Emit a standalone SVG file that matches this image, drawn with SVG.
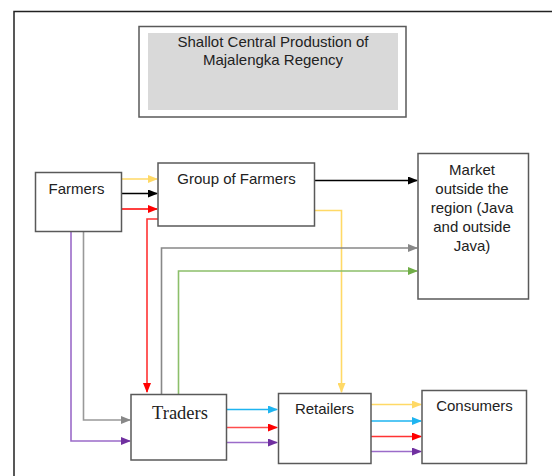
<svg xmlns="http://www.w3.org/2000/svg" width="552" height="476" viewBox="0 0 552 476">
<style>
.box{fill:#fff;stroke:#595959;stroke-width:1.5}
.t{font-family:"Liberation Sans",Arial,sans-serif;font-size:15px;fill:#222;text-anchor:middle}
.ts{font-family:"Liberation Serif","Times New Roman",serif;font-size:18.5px;fill:#222;text-anchor:middle}
.c{fill:none;stroke-width:1.6}
</style>
<defs>
<marker id="aY" markerWidth="10" markerHeight="8" refX="9" refY="4" orient="auto" markerUnits="userSpaceOnUse"><path d="M0,0L10,4L0,8z" fill="#FFD966"/></marker>
<marker id="aK" markerWidth="10" markerHeight="8" refX="9" refY="4" orient="auto" markerUnits="userSpaceOnUse"><path d="M0,0L10,4L0,8z" fill="#000"/></marker>
<marker id="aR" markerWidth="10" markerHeight="8" refX="9" refY="4" orient="auto" markerUnits="userSpaceOnUse"><path d="M0,0L10,4L0,8z" fill="#FF0000"/></marker>
<marker id="aG" markerWidth="10" markerHeight="8" refX="9" refY="4" orient="auto" markerUnits="userSpaceOnUse"><path d="M0,0L10,4L0,8z" fill="#888"/></marker>
<marker id="aN" markerWidth="10" markerHeight="8" refX="9" refY="4" orient="auto" markerUnits="userSpaceOnUse"><path d="M0,0L10,4L0,8z" fill="#70AD47"/></marker>
<marker id="aP" markerWidth="10" markerHeight="8" refX="9" refY="4" orient="auto" markerUnits="userSpaceOnUse"><path d="M0,0L10,4L0,8z" fill="#7030A0"/></marker>
<marker id="aC" markerWidth="10" markerHeight="8" refX="9" refY="4" orient="auto" markerUnits="userSpaceOnUse"><path d="M0,0L10,4L0,8z" fill="#1EB4F0"/></marker>
</defs>
<rect width="552" height="476" fill="#fff"/>
<path d="M14,480V11.5H560" fill="none" stroke="#222" stroke-width="1.5"/>
<g id="title">
<rect x="139" y="26.5" width="267" height="90.5" fill="#fff" stroke="#595959" stroke-width="1.5"/>
<rect x="148" y="33" width="250" height="77" fill="#D9D9D9"/>
<text class="t" x="273" y="47">Shallot Central Produstion of</text>
<text class="t" x="273" y="65">Majalengka Regency</text>
</g>
<g id="connectors">
<path class="c" stroke="#FFD966" d="M121,179H157" marker-end="url(#aY)"/>
<path class="c" stroke="#000" d="M121,193.5H157" marker-end="url(#aK)"/>
<path class="c" stroke="#FF0000" d="M121,209H157" marker-end="url(#aR)"/>
<path class="c" stroke="#FF3333" d="M158,219H147V392" marker-end="url(#aR)"/>
<path class="c" stroke="#000" d="M315,180.5H417" marker-end="url(#aK)"/>
<path class="c" stroke="#FFD966" d="M315,210.5H341.5V392" marker-end="url(#aY)"/>
<path class="c" stroke="#999" d="M83.5,231V420H130" marker-end="url(#aG)"/>
<path class="c" stroke="#9B6BC9" d="M71,231V441H130" marker-end="url(#aP)"/>
<path class="c" stroke="#888" d="M161.5,394V248H417" marker-end="url(#aG)"/>
<path class="c" stroke="#8CBF6A" d="M178.5,394V271H417" marker-end="url(#aN)"/>
<path class="c" stroke="#1EB4F0" d="M226,409.5H277" marker-end="url(#aC)"/>
<path class="c" stroke="#FF4D4D" d="M226,427.5H277" marker-end="url(#aR)"/>
<path class="c" stroke="#9B6BC9" d="M226,442.5H277" marker-end="url(#aP)"/>
<path class="c" stroke="#FFD966" d="M371,404.5H421" marker-end="url(#aY)"/>
<path class="c" stroke="#1EB4F0" d="M371,421H421" marker-end="url(#aC)"/>
<path class="c" stroke="#FF3333" d="M371,436.5H421" marker-end="url(#aR)"/>
<path class="c" stroke="#9B6BC9" d="M371,451.5H421" marker-end="url(#aP)"/>
</g>
<g id="farmers">
<rect class="box" x="35.5" y="172.5" width="86" height="59"/>
<text class="t" x="76.5" y="194">Farmers</text>
</g>
<g id="group">
<rect class="box" x="158" y="163" width="156.5" height="63"/>
<text class="t" x="236.5" y="183.5">Group of Farmers</text>
</g>
<g id="market">
<rect class="box" x="418" y="153.5" width="110.5" height="145.5"/>
<text class="t" x="472" y="175">Market</text>
<text class="t" x="472" y="194">outside the</text>
<text class="t" x="472" y="213">region (Java</text>
<text class="t" x="472" y="232">and outside</text>
<text class="t" x="472" y="250.5">Java)</text>
</g>
<g id="traders">
<rect class="box" x="131" y="394.5" width="95.5" height="65.5"/>
<text class="ts" x="180" y="418.5">Traders</text>
</g>
<g id="retailers">
<rect class="box" x="278.5" y="393.5" width="92.5" height="70"/>
<text class="t" x="324.5" y="413.5">Retailers</text>
</g>
<g id="consumers">
<rect class="box" x="422" y="390.5" width="104.5" height="73"/>
<text class="t" x="474.5" y="411">Consumers</text>
</g>
</svg>
